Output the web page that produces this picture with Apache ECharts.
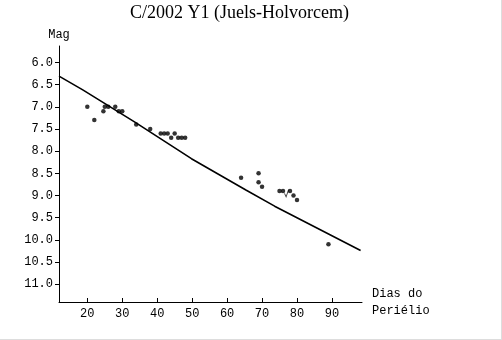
<!DOCTYPE html>
<html>
<head>
<meta charset="utf-8">
<script src="https://cdn.jsdelivr.net/npm/echarts@6/dist/echarts.min.js"></script>
<style>
  html, body { margin: 0; padding: 0; background: #fff; }
  #chart { width: 502px; height: 340px; }
</style>
</head>
<body>
<div id="chart"></div>
<script>
// Observations: days from perihelion and visual magnitude
const days = [20, 22, 24.6, 25, 26, 28, 29, 30, 34, 38, 41, 42, 43, 44, 45, 46, 47, 48, 64, 69, 69, 70, 75, 76, 78, 79, 80, 89];
const mags = [7.0, 7.3, 7.1, 7.0, 7.0, 7.0, 7.1, 7.1, 7.4, 7.5, 7.6, 7.6, 7.6, 7.7, 7.6, 7.7, 7.7, 7.7, 8.6, 8.5, 8.7, 8.8, 8.9, 8.9, 8.9, 9.0, 9.1, 10.1];

// Observation flagged with a check mark
const flagDays = [77];
const flagMags = [8.95];

// Fitted light curve
const curveDays = [11.9, 18.7, 33.5, 49.8, 65.5, 73.6, 98.2];
const curveMags = [6.31, 6.62, 7.34, 8.17, 8.88, 9.24, 10.24];

// Tick positions
const xTicks = [20, 30, 40, 50, 60, 70, 80, 90];
const yTicks = [6.0, 6.5, 7.0, 7.5, 8.0, 8.5, 9.0, 9.5, 10.0, 10.5, 11.0];

const zip = (a, b) => a.map((v, i) => [v, b[i]]);
const mono = '"Liberation Mono", "DejaVu Sans Mono", monospace';

const chart = echarts.init(document.getElementById('chart'), null, { renderer: 'canvas' });
chart.setOption({
  backgroundColor: '#ffffff',
  animation: false,
  title: {
    text: 'C/2002 Y1 (Juels-Holvorcem)',
    left: 130,
    top: 4,
    padding: 0,
    textStyle: {
      fontFamily: '"Liberation Serif", "Times New Roman", serif',
      fontSize: 18,
      fontWeight: 'normal',
      color: '#000'
    }
  },
  grid: { left: 59, top: 46, right: 140, bottom: 38, containLabel: false },
  xAxis: {
    type: 'value',
    min: 11.9,
    max: 98.6,
    name: 'Dias do\nPeriélio',
    nameLocation: 'end',
    nameGap: 10,
    nameTextStyle: {
      fontFamily: mono, fontSize: 12, color: '#000',
      align: 'left', verticalAlign: 'middle', lineHeight: 17
    },
    axisLine: { show: true, lineStyle: { color: '#000', width: 1 } },
    axisTick: { show: true, inside: true, length: 4, customValues: xTicks, lineStyle: { color: '#000' } },
    axisLabel: {
      customValues: xTicks,
      margin: 6,
      fontFamily: mono, fontSize: 12, color: '#000'
    },
    splitLine: { show: false }
  },
  yAxis: {
    type: 'value',
    inverse: true,
    min: 5.63,
    max: 11.4,
    name: 'Mag',
    nameLocation: 'start',
    nameGap: 5,
    nameTextStyle: {
      fontFamily: mono, fontSize: 12, color: '#000',
      align: 'center', verticalAlign: 'bottom'
    },
    axisLine: { show: true, lineStyle: { color: '#000', width: 1 } },
    axisTick: { show: true, inside: false, length: 4, customValues: yTicks, lineStyle: { color: '#000' } },
    axisLabel: {
      customValues: yTicks,
      margin: 6,
      formatter: v => v.toFixed(1),
      fontFamily: mono, fontSize: 12, color: '#000'
    },
    splitLine: { show: false }
  },
  series: [
    {
      type: 'line',
      data: zip(curveDays, curveMags),
      showSymbol: false,
      symbol: 'none',
      lineStyle: { color: '#000', width: 1.6 },
      z: 2
    },
    {
      type: 'scatter',
      data: zip(days, mags),
      symbol: 'circle',
      symbolSize: 4.5,
      itemStyle: { color: '#000' },
      z: 3
    },
    {
      type: 'scatter',
      data: zip(flagDays, flagMags),
      symbol: 'path://M0,4 L1.6,8 L4,0',
      symbolSize: [4, 7],
      itemStyle: { color: 'rgba(0,0,0,0)', borderColor: '#000', borderWidth: 1 },
      z: 3
    }
  ],
  graphic: [
    { type: 'rect', shape: { x: 501, y: 0, width: 1, height: 340 }, style: { fill: '#dddddd' }, silent: true },
    { type: 'rect', shape: { x: 0, y: 339, width: 502, height: 1 }, style: { fill: '#dddddd' }, silent: true }
  ]
});
</script>
</body>
</html>
